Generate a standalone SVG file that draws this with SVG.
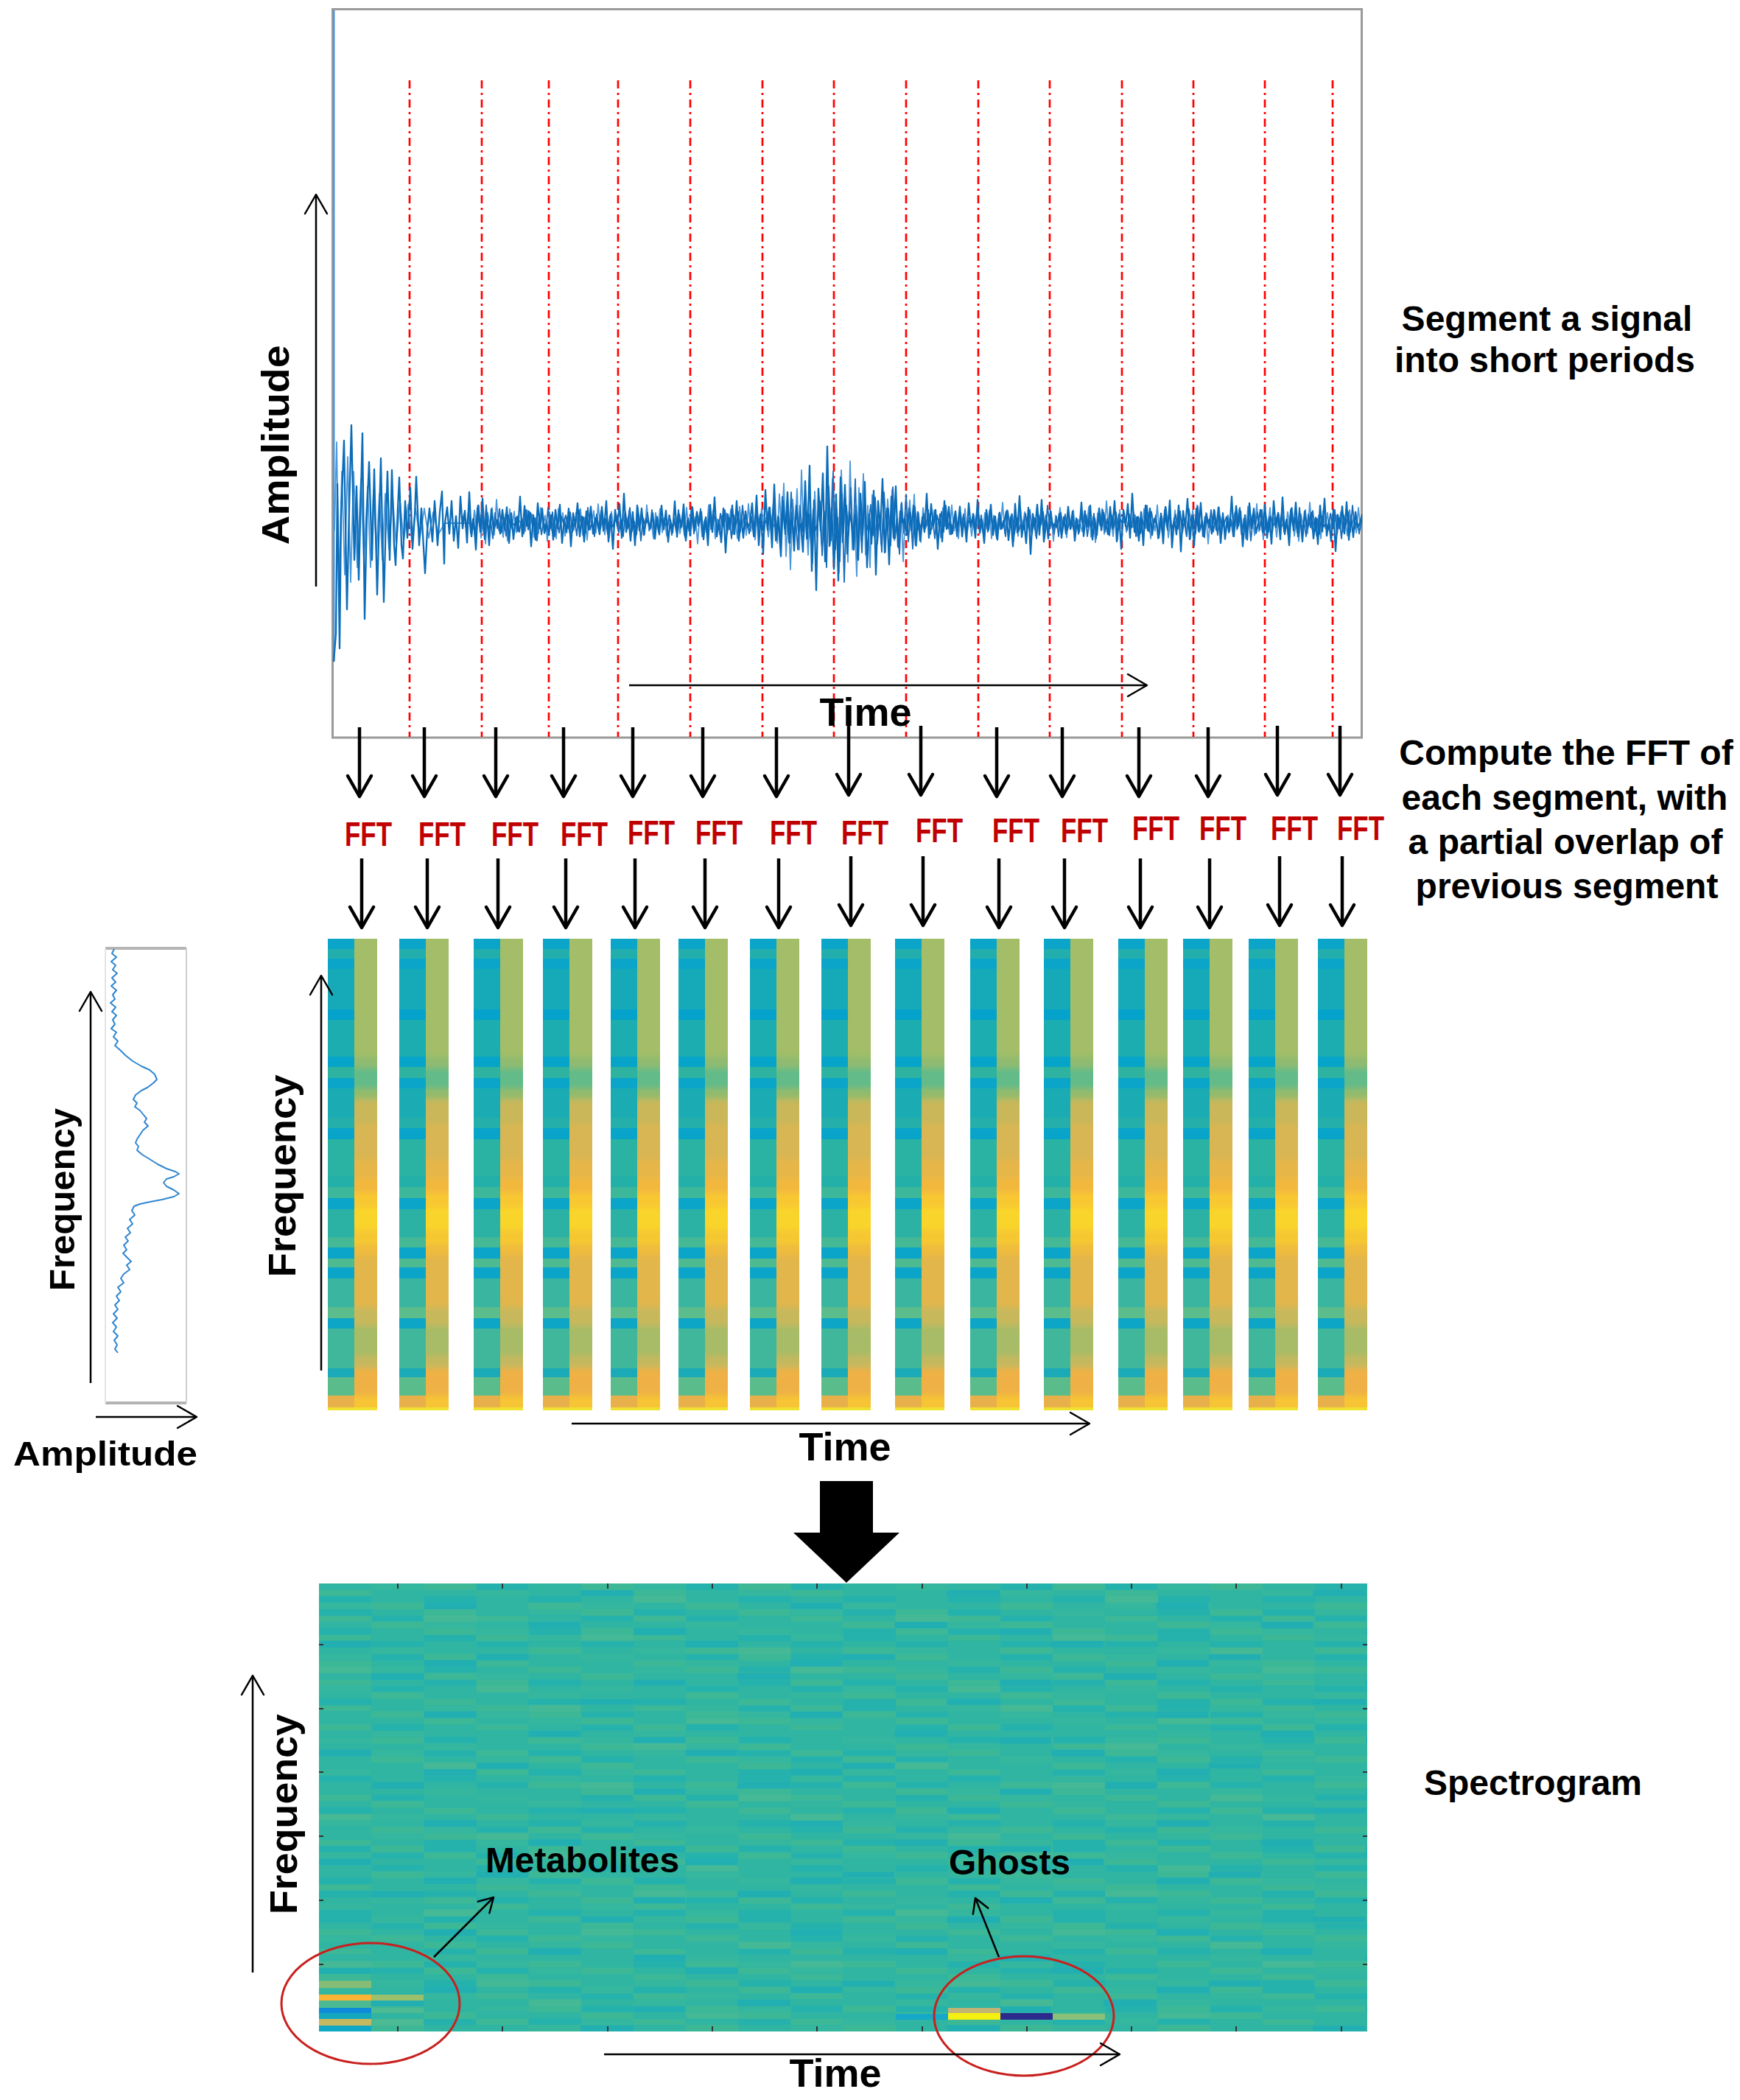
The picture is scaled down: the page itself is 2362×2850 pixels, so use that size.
<svg xmlns="http://www.w3.org/2000/svg" width="2362" height="2850" viewBox="0 0 2362 2850">
<style>
.lbl{font-family:"Liberation Sans",Arial,sans-serif;font-weight:bold;fill:#000}
.fft{font-family:"Liberation Sans",Arial,sans-serif;font-weight:bold;fill:#c00000;font-size:46px;text-anchor:middle}
.desc{font-family:"Liberation Sans",Arial,sans-serif;font-weight:bold;fill:#000;font-size:48px;text-anchor:middle}
.red{stroke:#ff0000;stroke-width:2.7;stroke-dasharray:11 6 3 6;fill:none}
.dn{stroke:#000;stroke-width:4.5;fill:none;marker-end:url(#ah)}
.ax{stroke:#000;stroke-width:2.5;fill:none;marker-end:url(#ahs)}
.ptr{stroke:#000;stroke-width:2.5;fill:none;marker-end:url(#ahm)}
.circ{stroke:#c8201e;stroke-width:3;fill:none}
.tick{stroke:#333;stroke-width:2}
</style>
<defs>
<marker id="ah" viewBox="-34 -20 38 40" refX="0" refY="0" markerWidth="38" markerHeight="40" markerUnits="userSpaceOnUse" orient="auto"><path d="M-28,-16 L0,0 L-28,16" fill="none" stroke="#000" stroke-width="4.5" stroke-linecap="round" stroke-linejoin="round"/></marker>
<marker id="ahs" viewBox="-30 -18 34 36" refX="0" refY="0" markerWidth="34" markerHeight="36" markerUnits="userSpaceOnUse" orient="auto"><path d="M-26,-15 L0,0 L-26,15" fill="none" stroke="#000" stroke-width="2.5" stroke-linecap="round" stroke-linejoin="round"/></marker>
<marker id="ahm" viewBox="-22 -14 26 28" refX="0" refY="0" markerWidth="26" markerHeight="28" markerUnits="userSpaceOnUse" orient="auto"><path d="M-19,-11 L0,0 L-19,11" fill="none" stroke="#000" stroke-width="2.5" stroke-linecap="round" stroke-linejoin="round"/></marker>
<clipPath id="sigclip"><rect x="452" y="12" width="1397" height="989"/></clipPath>
<clipPath id="rclip"><rect x="36" y="0" width="31" height="640"/></clipPath>
<filter id="vblur" x="-10%" y="-10%" width="120%" height="120%"><feGaussianBlur stdDeviation="0 3.5"/></filter>
<path id="nA" vector-effect="non-scaling-stroke" fill="none" d="M0,0 l3,-18 3,30 3,-37 3,45 3,-28 3,36 3,-58 3,36 3,-20 3,36 3,-57 3,50 3,-20 3,35 3,-50 3,30 3,-38 3,46 3,-28 3,35 3,-41 3,24 3,-8"/>
<path id="nB" vector-effect="non-scaling-stroke" fill="none" d="M0,0 l3,15 3,-37 3,30 3,-38 3,55 3,-37 3,47 3,-53 3,22 3,-30 3,46 3,-60 3,52 3,-20 3,32 3,-39 3,45 3,-54 3,34 3,-30 3,36 3,-22 3,6"/>
<g id="colpat">
<g shape-rendering="crispEdges">
<rect x="0" y="0" width="36" height="640" fill="#1aabb4"/>
<rect x="0" y="0" width="36" height="14" fill="#0aa5c8"/>
<rect x="0" y="14" width="36" height="13" fill="#22aeac"/>
<rect x="0" y="27" width="36" height="14" fill="#0aa5c8"/>
<rect x="0" y="41" width="36" height="55" fill="#16aab8"/>
<rect x="0" y="96" width="36" height="14" fill="#05a3cc"/>
<rect x="0" y="110" width="36" height="50" fill="#1badb0"/>
<rect x="0" y="160" width="36" height="14" fill="#07a4ca"/>
<rect x="0" y="174" width="36" height="15" fill="#2db3a0"/>
<rect x="0" y="189" width="36" height="14" fill="#0aa5c8"/>
<rect x="0" y="203" width="36" height="40" fill="#1aacb2"/>
<rect x="0" y="243" width="36" height="14" fill="#25afaa"/>
<rect x="0" y="257" width="36" height="15" fill="#08a4ca"/>
<rect x="0" y="272" width="36" height="50" fill="#2ab3a2"/>
<rect x="0" y="322" width="36" height="15" fill="#22b0a8"/>
<rect x="0" y="337" width="36" height="15" fill="#3cb79a"/>
<rect x="0" y="352" width="36" height="15" fill="#0aa5c8"/>
<rect x="0" y="367" width="36" height="38" fill="#2bb2a5"/>
<rect x="0" y="405" width="36" height="14" fill="#45b896"/>
<rect x="0" y="419" width="36" height="15" fill="#0aa5c8"/>
<rect x="0" y="434" width="36" height="12" fill="#4dba92"/>
<rect x="0" y="446" width="36" height="15" fill="#0aa5c8"/>
<rect x="0" y="461" width="36" height="39" fill="#3ab5a0"/>
<rect x="0" y="500" width="36" height="15" fill="#5cbd8c"/>
<rect x="0" y="515" width="36" height="14" fill="#0da6c6"/>
<rect x="0" y="529" width="36" height="54" fill="#40b79a"/>
<rect x="0" y="583" width="36" height="12" fill="#1aaab8"/>
<rect x="0" y="595" width="36" height="25" fill="#5abc8b"/>
<rect x="0" y="620" width="36" height="16" fill="#e8b04a"/>
<rect x="0" y="636" width="36" height="4" fill="#f0e030"/>
</g>
<g clip-path="url(#rclip)"><g filter="url(#vblur)">
<rect x="36" y="-12" width="31" height="172" fill="#a3bd68"/>
<rect x="36" y="160" width="31" height="16" fill="#8fbb70"/>
<rect x="36" y="176" width="31" height="27" fill="#62bb88"/>
<rect x="36" y="203" width="31" height="15" fill="#93bb6c"/>
<rect x="36" y="218" width="31" height="33" fill="#c9b75a"/>
<rect x="36" y="251" width="31" height="49" fill="#d8b652"/>
<rect x="36" y="300" width="31" height="25" fill="#e6b64a"/>
<rect x="36" y="325" width="31" height="20" fill="#f2b83c"/>
<rect x="36" y="345" width="31" height="20" fill="#f8c830"/>
<rect x="36" y="365" width="31" height="30" fill="#f9d42a"/>
<rect x="36" y="395" width="31" height="20" fill="#f5c832"/>
<rect x="36" y="415" width="31" height="15" fill="#efbb3c"/>
<rect x="36" y="430" width="31" height="70" fill="#e2b64c"/>
<rect x="36" y="500" width="31" height="25" fill="#c8b85c"/>
<rect x="36" y="525" width="31" height="41" fill="#a8bb66"/>
<rect x="36" y="566" width="31" height="17" fill="#c4b85e"/>
<rect x="36" y="583" width="31" height="37" fill="#efb144"/>
<rect x="36" y="620" width="31" height="32" fill="#f6c434"/>
</g></g>
<rect x="36" y="636" width="31" height="4" fill="#f0e030"/>
</g>
<pattern id="pB" patternUnits="userSpaceOnUse" x="433" y="2149" width="142.3" height="95.55"><g fill="#26b2ac" shape-rendering="crispEdges"><rect x="0" y="17.37" width="71.15" height="8.69"/><rect x="0" y="60.8" width="71.15" height="17.37"/><rect x="0" y="34.74" width="71.15" height="8.69"/><rect x="71.15" y="0" width="71.15" height="8.69"/><rect x="71.15" y="43.43" width="71.15" height="8.69"/><rect x="71.15" y="78.17" width="71.15" height="8.69"/></g></pattern>
<pattern id="pA" patternUnits="userSpaceOnUse" x="433" y="2149" width="213.45" height="60.8"><g fill="#3db897" shape-rendering="crispEdges"><rect x="0" y="8.69" width="71.15" height="8.69"/><rect x="0" y="43.43" width="71.15" height="8.69"/><rect x="71.15" y="26.06" width="71.15" height="8.69"/><rect x="71.15" y="52.12" width="71.15" height="8.69"/><rect x="142.3" y="0" width="71.15" height="8.69"/><rect x="142.3" y="34.74" width="71.15" height="8.69"/></g></pattern>
<pattern id="pC" patternUnits="userSpaceOnUse" x="433" y="2149" width="355.75" height="112.9"><g fill="#35b69e" shape-rendering="crispEdges"><rect x="0" y="26.06" width="71.15" height="8.69"/><rect x="71.15" y="86.86" width="71.15" height="8.69"/><rect x="142.3" y="52.12" width="71.15" height="8.69"/><rect x="213.45" y="8.69" width="71.15" height="8.69"/><rect x="284.6" y="69.49" width="71.15" height="8.69"/><rect x="0" y="95.55" width="71.15" height="8.69"/><rect x="142.3" y="104.2" width="71.15" height="8.69"/><rect x="213.45" y="60.8" width="71.15" height="8.69"/><rect x="284.6" y="34.74" width="71.15" height="8.69"/><rect x="71.15" y="0" width="71.15" height="8.69"/></g></pattern>
<pattern id="pD" patternUnits="userSpaceOnUse" x="433" y="2149" width="497.05" height="147.7"><g fill="#22afb2" shape-rendering="crispEdges"><rect x="0" y="78.17" width="71.15" height="8.69"/><rect x="71.15" y="121.6" width="71.15" height="8.69"/><rect x="142.3" y="26.06" width="71.15" height="8.69"/><rect x="213.45" y="95.55" width="71.15" height="8.69"/><rect x="284.6" y="52.12" width="71.15" height="8.69"/><rect x="355.75" y="8.69" width="71.15" height="8.69"/><rect x="426.9" y="130.3" width="71.15" height="8.69"/><rect x="426.9" y="60.8" width="71.15" height="8.69"/><rect x="142.3" y="104.2" width="71.15" height="8.69"/></g></pattern>
<pattern id="pE" patternUnits="userSpaceOnUse" x="433" y="2149" width="640.35" height="199.8"><g fill="#45b996" shape-rendering="crispEdges"><rect x="0" y="112.9" width="71.15" height="8.69"/><rect x="142.3" y="43.43" width="71.15" height="8.69"/><rect x="284.6" y="165" width="71.15" height="8.69"/><rect x="426.9" y="17.37" width="71.15" height="8.69"/><rect x="569.2" y="86.86" width="71.15" height="8.69"/><rect x="213.45" y="139" width="71.15" height="8.69"/><rect x="498.05" y="182.4" width="71.15" height="8.69"/><rect x="355.75" y="69.49" width="71.15" height="8.69"/></g></pattern>
</defs>

<rect x="0" y="0" width="2362" height="2850" fill="#ffffff"/>

<g id="signal-plot">
<rect x="451.5" y="12.5" width="1397" height="988.5" fill="#fff" stroke="#9a9a9a" stroke-width="3"/>
<g id="segment-lines">
<line class="red" x1="556" y1="109" x2="556" y2="1000"/>
<line class="red" x1="654" y1="109" x2="654" y2="1000"/>
<line class="red" x1="745" y1="109" x2="745" y2="1000"/>
<line class="red" x1="839" y1="109" x2="839" y2="1000"/>
<line class="red" x1="937" y1="109" x2="937" y2="1000"/>
<line class="red" x1="1035" y1="109" x2="1035" y2="1000"/>
<line class="red" x1="1132" y1="109" x2="1132" y2="1000"/>
<line class="red" x1="1230" y1="109" x2="1230" y2="1000"/>
<line class="red" x1="1328" y1="109" x2="1328" y2="1000"/>
<line class="red" x1="1425" y1="109" x2="1425" y2="1000"/>
<line class="red" x1="1523" y1="109" x2="1523" y2="1000"/>
<line class="red" x1="1620" y1="109" x2="1620" y2="1000"/>
<line class="red" x1="1717" y1="109" x2="1717" y2="1000"/>
<line class="red" x1="1809" y1="109" x2="1809" y2="1000"/>
</g>
<g id="waveform" clip-path="url(#sigclip)" fill="none" stroke-linejoin="round">
<g stroke="#4a98dc" stroke-width="1.8">
<path d="M454,720 L457,600 L460,800 L464,640 L468,780 L472,620 L476,790 L480,640 L485,770 L490,650 L494,760 L499,660 L503,770 L507,665 L511,750 L515,670 L519,760 L523,670 L528,745 L533,675 L538,740 L543,680 L548,735 L554,685 L559,735 L564,690 L570,730 L576,690 L582,730 L588,695 L595,725 L604,710 L638,710"/>
<use href="#nB" transform="translate(638,710) scale(1,0.8)"/>
<use href="#nA" transform="translate(776,710) scale(-1,-0.7)"/>
<use href="#nB" transform="translate(776,710) scale(1,0.65)"/>
<use href="#nA" transform="translate(845,710) scale(1,0.7)"/>
<use href="#nB" transform="translate(983,710) scale(-1,-0.7)"/>
<use href="#nA" transform="translate(983,710) scale(1,0.75)"/>
<use href="#nB" transform="translate(1052,710) scale(1,1.8)"/>
<use href="#nA" transform="translate(1121,710) scale(1,2.4)"/>
<use href="#nB" transform="translate(1190,710) scale(1,-1.3)"/>
<use href="#nA" transform="translate(1259,710) scale(1,0.7)"/>
<use href="#nB" transform="translate(1397,710) scale(-1,0.7)"/>
<use href="#nA" transform="translate(1397,710) scale(1,-0.7)"/>
<use href="#nB" transform="translate(1466,710) scale(1,0.75)"/>
<use href="#nA" transform="translate(1604,710) scale(-1,0.7)"/>
<use href="#nB" transform="translate(1604,710) scale(1,-0.7)"/>
<use href="#nA" transform="translate(1673,710) scale(1,0.75)"/>
<use href="#nB" transform="translate(1742,710) scale(1,0.7)"/>
<use href="#nA" transform="translate(1811,710) scale(1,0.6)"/>
</g>
<g stroke="#1a6cb8" stroke-width="1.8">
<use href="#nA" transform="translate(627,710) scale(1,0.7)"/>
<use href="#nB" transform="translate(765,710) scale(-1,-0.6)"/>
<use href="#nA" transform="translate(765,710) scale(1,0.6)"/>
<use href="#nB" transform="translate(834,710) scale(1,-0.6)"/>
<use href="#nA" transform="translate(972,710) scale(-1,0.65)"/>
<use href="#nB" transform="translate(972,710) scale(1,0.6)"/>
<use href="#nA" transform="translate(1041,710) scale(1,1.2)"/>
<use href="#nB" transform="translate(1110,710) scale(1,-2)"/>
<use href="#nA" transform="translate(1179,710) scale(1,1.4)"/>
<use href="#nB" transform="translate(1248,710) scale(1,0.6)"/>
<use href="#nA" transform="translate(1386,710) scale(-1,-0.6)"/>
<use href="#nB" transform="translate(1386,710) scale(1,0.6)"/>
<use href="#nA" transform="translate(1455,710) scale(1,-0.6)"/>
<use href="#nB" transform="translate(1593,710) scale(-1,0.6)"/>
<use href="#nA" transform="translate(1593,710) scale(1,0.65)"/>
<use href="#nB" transform="translate(1662,710) scale(1,-0.6)"/>
<use href="#nA" transform="translate(1731,710) scale(1,0.6)"/>
<use href="#nB" transform="translate(1800,710) scale(1,0.6)"/>
</g>
<g stroke="#0b6cb8" stroke-width="2.3">
<path stroke="#4a9ae0" stroke-width="3" d="M453,14 L453,898"/>
<path d="M453,898 L456,860 L458,657 L461,880 L463,700 L467,598 L471,827 L474,690 L477,577 L481,760 L484,660 L487,787 L492,588 L495,840 L498,700 L501,627 L505,760 L508,637 L512,807 L517,622 L521,817 L524,700 L526,640 L529,760 L532,638 L535,740 L537,767 L540,690 L542,648 L545,740 L547,758 L550,680 L553,730 L557,662 L560,745 L563,700 L565,647 L569,740 L572,690 L577,778 L580,720 L583,690 L587,735 L590,680 L594,740 L597,695 L600,667 L603,765 L604,710"/>
<use href="#nA" transform="translate(604,710) scale(1,1.2)"/>
<use href="#nB" transform="translate(742,710) scale(-1,0.9)"/>
<use href="#nA" transform="translate(742,710) scale(1,-0.9)"/>
<use href="#nB" transform="translate(811,710) scale(1,1)"/>
<use href="#nA" transform="translate(949,710) scale(-1,0.85)"/>
<use href="#nB" transform="translate(949,710) scale(1,-1)"/>
<use href="#nA" transform="translate(1018,710) scale(1,1.5)"/>
<use href="#nB" transform="translate(1087,710) scale(1,2.6)"/>
<use href="#nA" transform="translate(1156,710) scale(1,-2)"/>
<use href="#nB" transform="translate(1294,710) scale(-1,1)"/>
<use href="#nA" transform="translate(1294,710) scale(1,0.9)"/>
<use href="#nB" transform="translate(1363,710) scale(1,-1.05)"/>
<use href="#nA" transform="translate(1501,710) scale(-1,0.8)"/>
<use href="#nB" transform="translate(1501,710) scale(1,1)"/>
<use href="#nA" transform="translate(1570,710) scale(1,-1.1)"/>
<use href="#nB" transform="translate(1708,710) scale(-1,0.9)"/>
<use href="#nA" transform="translate(1708,710) scale(1,1)"/>
<use href="#nB" transform="translate(1777,710) scale(1,-0.95)"/>
<path d="M1846,710 l3,-12"/>
</g>
</g>
<text class="lbl" font-size="52" text-anchor="middle" textLength="271" lengthAdjust="spacingAndGlyphs" transform="translate(392,604) rotate(-90)">Amplitude</text>
<text class="lbl" font-size="54" text-anchor="middle" x="1175" y="985">Time</text>
</g>

<g id="fft-labels">
<text id="fft-1" class="fft" x="500" y="1148" textLength="64" lengthAdjust="spacingAndGlyphs">FFT</text>
<text id="fft-2" class="fft" x="600" y="1148" textLength="64" lengthAdjust="spacingAndGlyphs">FFT</text>
<text id="fft-3" class="fft" x="699" y="1148" textLength="64" lengthAdjust="spacingAndGlyphs">FFT</text>
<text id="fft-4" class="fft" x="793" y="1148" textLength="64" lengthAdjust="spacingAndGlyphs">FFT</text>
<text id="fft-5" class="fft" x="884" y="1146" textLength="64" lengthAdjust="spacingAndGlyphs">FFT</text>
<text id="fft-6" class="fft" x="976" y="1146" textLength="64" lengthAdjust="spacingAndGlyphs">FFT</text>
<text id="fft-7" class="fft" x="1077" y="1146" textLength="64" lengthAdjust="spacingAndGlyphs">FFT</text>
<text id="fft-8" class="fft" x="1174" y="1146" textLength="64" lengthAdjust="spacingAndGlyphs">FFT</text>
<text id="fft-9" class="fft" x="1275" y="1143" textLength="64" lengthAdjust="spacingAndGlyphs">FFT</text>
<text id="fft-10" class="fft" x="1379" y="1143" textLength="64" lengthAdjust="spacingAndGlyphs">FFT</text>
<text id="fft-11" class="fft" x="1472" y="1143" textLength="64" lengthAdjust="spacingAndGlyphs">FFT</text>
<text id="fft-12" class="fft" x="1569" y="1140" textLength="64" lengthAdjust="spacingAndGlyphs">FFT</text>
<text id="fft-13" class="fft" x="1660" y="1140" textLength="64" lengthAdjust="spacingAndGlyphs">FFT</text>
<text id="fft-14" class="fft" x="1757" y="1140" textLength="64" lengthAdjust="spacingAndGlyphs">FFT</text>
<text id="fft-15" class="fft" x="1847" y="1140" textLength="64" lengthAdjust="spacingAndGlyphs">FFT</text>
</g>

<g id="segment-spectra">
<g id="spec-col-1"><use href="#colpat" x="445" y="1274"/></g>
<g id="spec-col-2"><use href="#colpat" x="542" y="1274"/></g>
<g id="spec-col-3"><use href="#colpat" x="643" y="1274"/></g>
<g id="spec-col-4"><use href="#colpat" x="737" y="1274"/></g>
<g id="spec-col-5"><use href="#colpat" x="829" y="1274"/></g>
<g id="spec-col-6"><use href="#colpat" x="921" y="1274"/></g>
<g id="spec-col-7"><use href="#colpat" x="1018" y="1274"/></g>
<g id="spec-col-8"><use href="#colpat" x="1115" y="1274"/></g>
<g id="spec-col-9"><use href="#colpat" x="1215" y="1274"/></g>
<g id="spec-col-10"><use href="#colpat" x="1317" y="1274"/></g>
<g id="spec-col-11"><use href="#colpat" x="1417" y="1274"/></g>
<g id="spec-col-12"><use href="#colpat" x="1518" y="1274"/></g>
<g id="spec-col-13"><use href="#colpat" x="1606" y="1274"/></g>
<g id="spec-col-14"><use href="#colpat" x="1695" y="1274"/></g>
<g id="spec-col-15"><use href="#colpat" x="1789" y="1274"/></g>
<text class="lbl" font-size="52" text-anchor="middle" textLength="275" lengthAdjust="spacingAndGlyphs" transform="translate(401,1596) rotate(-90)">Frequency</text>
<text class="lbl" font-size="54" text-anchor="middle" x="1147" y="1982">Time</text>
</g>

<g id="spectrum-plot">
<line x1="143" y1="1287" x2="253" y2="1287" stroke="#b4b4b4" stroke-width="4"/>
<line x1="143" y1="1904" x2="253" y2="1904" stroke="#b4b4b4" stroke-width="4"/>
<line x1="143" y1="1287" x2="143" y2="1904" stroke="#e4e4e4" stroke-width="2"/>
<line x1="253" y1="1287" x2="253" y2="1904" stroke="#d0d0d0" stroke-width="2"/>
<path fill="none" stroke="#2f86d0" stroke-width="2" stroke-linejoin="round" d="M155,1288 L152,1294 L158,1299 L151,1305 L157,1310 L153,1316 L159,1321 L152,1327 L157,1333 L151,1338 L158,1344 L153,1350 L156,1356 L150,1361 L157,1367 L152,1373 L158,1378 L153,1384 L156,1390 L151,1396 L158,1401 L154,1407 L160,1413 L156,1419 L163,1425 L170,1432 L180,1440 L192,1447 L203,1452 L210,1458 L213,1465 L208,1470 L200,1476 L192,1480 L184,1486 L181,1492 L186,1497 L183,1502 L190,1507 L194,1512 L199,1518 L196,1523 L201,1528 L194,1534 L190,1540 L186,1546 L184,1551 L188,1556 L186,1561 L193,1567 L203,1573 L214,1580 L226,1586 L238,1590 L243,1593 L236,1597 L226,1600 L222,1605 L226,1610 L236,1615 L243,1620 L236,1624 L220,1628 L204,1631 L190,1634 L182,1637 L179,1643 L183,1649 L176,1655 L180,1661 L173,1667 L177,1673 L170,1679 L174,1684 L168,1690 L172,1696 L167,1701 L173,1707 L178,1712 L172,1717 L176,1723 L168,1729 L164,1735 L168,1741 L160,1747 L164,1753 L158,1759 L162,1765 L156,1771 L160,1777 L154,1783 L159,1789 L153,1795 L158,1801 L154,1807 L160,1813 L155,1819 L159,1825 L156,1831 L160,1836"/>
<text class="lbl" font-size="48" text-anchor="middle" textLength="248" lengthAdjust="spacingAndGlyphs" transform="translate(101,1628) rotate(-90)">Frequency</text>
<text class="lbl" font-size="46" x="18" y="1989" textLength="250" lengthAdjust="spacingAndGlyphs">Amplitude</text>
</g>

<g id="spectrogram">
<rect x="433" y="2149" width="1423" height="608" fill="#2fb5a2"/>
<rect x="433" y="2149" width="1423" height="608" fill="url(#pB)"/>
<rect x="433" y="2149" width="1423" height="608" fill="url(#pA)"/>
<rect x="433" y="2149" width="1423" height="608" fill="url(#pC)"/>
<rect x="433" y="2149" width="1423" height="608" fill="url(#pD)"/>
<rect x="433" y="2149" width="1423" height="608" fill="url(#pE)"/>
<g shape-rendering="crispEdges">
<rect x="433" y="2688" width="71" height="10" fill="#86bd76"/>
<rect x="433" y="2707" width="71" height="8" fill="#f8b432"/>
<rect x="433" y="2715" width="71" height="10" fill="#4bb991"/>
<rect x="433" y="2725" width="71" height="7" fill="#0d8ad8"/>
<rect x="433" y="2732" width="71" height="8" fill="#14a8c0"/>
<rect x="433" y="2740" width="71" height="9" fill="#c4b860"/>
<rect x="433" y="2749" width="71" height="8" fill="#10a8c4"/>
<rect x="504" y="2707" width="71" height="8" fill="#9cbf6c"/>
<rect x="504" y="2725" width="71" height="7" fill="#4cba92"/>
<rect x="504" y="2740" width="71" height="9" fill="#4cba92"/>
<rect x="1216" y="2733" width="71" height="8" fill="#16a8c8"/>
<rect x="1287" y="2725" width="71" height="7" fill="#c2b474"/>
<rect x="1287" y="2732" width="71" height="9" fill="#f5f010"/>
<rect x="1358" y="2732" width="71" height="9" fill="#2d2a8e"/>
<rect x="1429" y="2733" width="71" height="8" fill="#8cbf78"/>
</g>
<g class="tick">
<path d="M540,2149v7M682,2149v7M825,2149v7M967,2149v7M1109,2149v7M1252,2149v7M1394,2149v7M1536,2149v7M1678,2149v7M1821,2149v7"/>
<path d="M540,2757v-7M682,2757v-7M825,2757v-7M967,2757v-7M1109,2757v-7M1252,2757v-7M1394,2757v-7M1536,2757v-7M1678,2757v-7M1821,2757v-7"/>
<path d="M433,2232h6M433,2319h6M433,2405h6M433,2492h6M433,2579h6M433,2666h6"/>
<path d="M1856,2232h-6M1856,2319h-6M1856,2405h-6M1856,2492h-6M1856,2579h-6M1856,2666h-6"/>
</g>
<ellipse class="circ" cx="503" cy="2719" rx="121" ry="82"/>
<ellipse class="circ" cx="1390" cy="2736" rx="122" ry="81"/>
<text class="lbl" font-size="48" x="659" y="2541" textLength="263" lengthAdjust="spacingAndGlyphs">Metabolites</text>
<text class="lbl" font-size="48" x="1288" y="2544" textLength="165" lengthAdjust="spacingAndGlyphs">Ghosts</text>
<text class="lbl" font-size="52" text-anchor="middle" textLength="272" lengthAdjust="spacingAndGlyphs" transform="translate(403,2462) rotate(-90)">Frequency</text>
<text class="lbl" font-size="54" text-anchor="middle" x="1134" y="2832">Time</text>
</g>

<g id="descriptions">
<text class="desc" x="2100" y="449">Segment a signal</text>
<text class="desc" x="2097" y="505">into short periods</text>
<text class="desc" x="2126" y="1038">Compute the FFT of</text>
<text class="desc" x="2124" y="1099">each segment, with</text>
<text class="desc" x="2125" y="1159">a partial overlap of</text>
<text class="desc" x="2127" y="1219">previous segment</text>
<text class="desc" x="2081" y="2436">Spectrogram</text>
</g>

<g id="connectors">
<g id="segment-to-fft">
<line class="dn" x1="488" y1="987" x2="488" y2="1081"/>
<line class="dn" x1="576" y1="987" x2="576" y2="1081"/>
<line class="dn" x1="673" y1="987" x2="673" y2="1081"/>
<line class="dn" x1="765" y1="987" x2="765" y2="1081"/>
<line class="dn" x1="859" y1="987" x2="859" y2="1081"/>
<line class="dn" x1="954" y1="987" x2="954" y2="1081"/>
<line class="dn" x1="1054" y1="987" x2="1054" y2="1081"/>
<line class="dn" x1="1152" y1="985" x2="1152" y2="1079"/>
<line class="dn" x1="1250" y1="985" x2="1250" y2="1079"/>
<line class="dn" x1="1353" y1="987" x2="1353" y2="1081"/>
<line class="dn" x1="1442" y1="987" x2="1442" y2="1081"/>
<line class="dn" x1="1546" y1="987" x2="1546" y2="1081"/>
<line class="dn" x1="1640" y1="987" x2="1640" y2="1081"/>
<line class="dn" x1="1734" y1="985" x2="1734" y2="1079"/>
<line class="dn" x1="1819" y1="985" x2="1819" y2="1079"/>
</g>
<g id="fft-to-spectra">
<line class="dn" x1="491" y1="1165" x2="491" y2="1259"/>
<line class="dn" x1="580" y1="1165" x2="580" y2="1259"/>
<line class="dn" x1="676" y1="1165" x2="676" y2="1259"/>
<line class="dn" x1="768" y1="1165" x2="768" y2="1259"/>
<line class="dn" x1="862" y1="1165" x2="862" y2="1259"/>
<line class="dn" x1="957" y1="1165" x2="957" y2="1259"/>
<line class="dn" x1="1057" y1="1165" x2="1057" y2="1259"/>
<line class="dn" x1="1155" y1="1162" x2="1155" y2="1256"/>
<line class="dn" x1="1253" y1="1162" x2="1253" y2="1256"/>
<line class="dn" x1="1356" y1="1165" x2="1356" y2="1259"/>
<line class="dn" x1="1445" y1="1165" x2="1445" y2="1259"/>
<line class="dn" x1="1548" y1="1165" x2="1548" y2="1259"/>
<line class="dn" x1="1642" y1="1165" x2="1642" y2="1259"/>
<line class="dn" x1="1737" y1="1162" x2="1737" y2="1256"/>
<line class="dn" x1="1822" y1="1162" x2="1822" y2="1256"/>
</g>
<g id="axes">
<line class="ax" x1="429" y1="796" x2="429" y2="264"/>
<line class="ax" x1="854" y1="930" x2="1557" y2="930"/>
<line class="ax" x1="436" y1="1860" x2="436" y2="1324"/>
<line class="ax" x1="776" y1="1932" x2="1479" y2="1932"/>
<line class="ax" x1="123" y1="1877" x2="123" y2="1346"/>
<line class="ax" x1="130" y1="1923" x2="267" y2="1923"/>
<line class="ax" x1="343" y1="2677" x2="343" y2="2274"/>
<line class="ax" x1="820" y1="2788" x2="1520" y2="2788"/>
</g>
<line class="ptr" x1="589" y1="2656" x2="670" y2="2575"/>
<line class="ptr" x1="1356" y1="2656" x2="1324" y2="2576"/>
<polygon id="to-spectrogram" points="1113,2010 1185,2010 1185,2080 1221,2080 1149,2148 1077,2080 1113,2080" fill="#000"/>
</g>
</svg>
